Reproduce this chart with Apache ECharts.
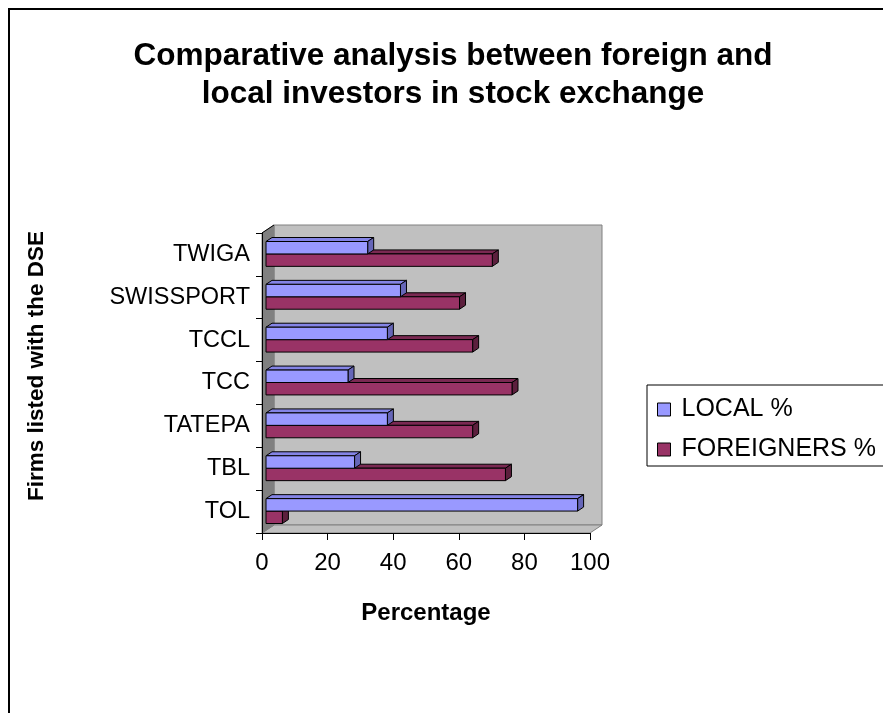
<!DOCTYPE html>
<html>
<head>
<meta charset="utf-8">
<script src="https://cdn.jsdelivr.net/npm/echarts@6/dist/echarts.min.js"></script>
<style>html,body{margin:0;padding:0;background:#fff;}#c{width:883px;height:713px;}</style>
</head>
<body>
<div id="c"></div>
<script>
var categories = ['TOL', 'TBL', 'TATEPA', 'TCC', 'TCCL', 'SWISSPORT', 'TWIGA'];
var localPct = [95, 27, 37, 25, 37, 41, 31];
var foreignPct = [5, 73, 63, 75, 63, 59, 69];
var xTicks = { min: 0, max: 100, interval: 20 };
var seriesNames = ['LOCAL %', 'FOREIGNERS %'];

var G = { left: 262, top: 233, width: 328, height: 300 };
var DEPTH = [12, -8];      // wall depth offset
var BAR_SHIFT = [4, -0.5]; // bar plane offset
var BAR_D = [6, -4];       // bar depth

var FONT = 'Liberation Sans, Arial, sans-serif';

function makeRender(c, isLocal) {
  return function (params, api) {
    var cat = api.value(0), val = api.value(1);
    var p0 = api.coord([0, cat]);
    var p1 = api.coord([val, cat]);
    var band = api.size([0, 1])[1];
    var h = band * 0.29;
    var cy = p0[1] + BAR_SHIFT[1];
    var yTop = isLocal ? cy - h : cy;
    var yBot = yTop + h;
    var x0 = p0[0] + BAR_SHIFT[0], x1 = p1[0] + BAR_SHIFT[0];
    var dx = BAR_D[0], dy = BAR_D[1];
    var st = { stroke: '#000', lineWidth: 1 };
    return {
      type: 'group',
      children: [
        { type: 'polygon', shape: { points: [[x0, yTop], [x1, yTop], [x1 + dx, yTop + dy], [x0 + dx, yTop + dy]] },
          style: Object.assign({ fill: c.top }, st) },
        { type: 'polygon', shape: { points: [[x1, yTop], [x1 + dx, yTop + dy], [x1 + dx, yBot + dy], [x1, yBot]] },
          style: Object.assign({ fill: c.side }, st) },
        { type: 'rect', shape: { x: x0, y: yTop, width: x1 - x0, height: h },
          style: Object.assign({ fill: c.front }, st) }
      ]
    };
  };
}

var localColors = { front: '#9999FF', top: '#8484E6', side: '#6666B8' };
var foreignColors = { front: '#993366', top: '#7A2952', side: '#5C1F3D' };

var chart = echarts.init(document.getElementById('c'), null, { renderer: 'canvas' });

var L = G.left, T = G.top, R = G.left + G.width, B = G.top + G.height;
var dX = DEPTH[0], dY = DEPTH[1];

chart.setOption({
  animation: false,
  backgroundColor: '#fff',
  grid: { left: G.left, top: G.top, width: G.width, height: G.height, containLabel: false },
  legend: {
    data: seriesNames,
    orient: 'vertical',
    left: 647, top: 385,
    padding: [12, 30, 4, 10],
    itemGap: 15,
    itemWidth: 13, itemHeight: 13,
    icon: 'rect',
    borderColor: '#000', borderWidth: 1,
    backgroundColor: '#fff',
    itemStyle: { borderColor: '#000', borderWidth: 1 },
    textStyle: { fontFamily: FONT, fontSize: 25, color: '#000', lineHeight: 24, padding: [0, 0, 0, 6] }
  },
  xAxis: {
    type: 'value',
    min: xTicks.min, max: xTicks.max, interval: xTicks.interval,
    name: 'Percentage',
    nameLocation: 'middle',
    nameGap: 68,
    nameTextStyle: { fontFamily: FONT, fontSize: 24, fontWeight: 'bold', color: '#000' },
    axisLine: { show: true, lineStyle: { color: '#000', width: 1 } },
    axisTick: { show: true, length: 7, lineStyle: { color: '#000' } },
    axisLabel: { fontFamily: FONT, fontSize: 24, color: '#000', margin: 18 },
    splitLine: { show: false }
  },
  yAxis: {
    type: 'category',
    data: categories,
    name: 'Firms listed with the DSE',
    nameLocation: 'middle',
    nameRotate: 90,
    nameGap: 214,
    nameTextStyle: { fontFamily: FONT, fontSize: 22.5, fontWeight: 'bold', color: '#000', padding: [0, 0, 0, 34] },
    axisLine: { show: true, lineStyle: { color: '#000', width: 1 } },
    axisTick: { show: true, length: 6, lineStyle: { color: '#000' } },
    axisLabel: { fontFamily: FONT, fontSize: 23.5, color: '#000', margin: 12 },
    splitLine: { show: false }
  },
  graphic: {
    elements: [
      { type: 'rect', z: 100, silent: true, shape: { x: 9, y: 9, width: 900, height: 720 },
        style: { fill: null, stroke: '#000', lineWidth: 2 } },
      { type: 'text', z: 100, x: 453, y: 37,
        style: { text: 'Comparative analysis between foreign and\nlocal investors in stock exchange',
          fontFamily: FONT, fontSize: 31.5, fontWeight: 'bold', fill: '#000',
          align: 'center', verticalAlign: 'top', lineHeight: 38 } },
      // back wall
      { type: 'rect', z: -5, shape: { x: L + dX, y: T + dY, width: G.width, height: G.height },
        style: { fill: '#C0C0C0', stroke: '#808080', lineWidth: 1 } },
      // floor
      { type: 'polygon', z: -5, shape: { points: [[L, B], [R, B], [R + dX, B + dY], [L + dX, B + dY]] },
        style: { fill: '#C0C0C0', stroke: '#808080', lineWidth: 1 } },
      // left wall
      { type: 'polygon', z: -4, shape: { points: [[L, T], [L + dX, T + dY], [L + dX, B + dY], [L, B]] },
        style: { fill: '#808080', stroke: '#808080', lineWidth: 1 } },
      { type: 'line', z: -3, shape: { x1: L, y1: T, x2: L + dX, y2: T + dY },
        style: { stroke: '#000', lineWidth: 1 } }
    ]
  },
  series: [
    {
      name: seriesNames[1], type: 'custom', z: 2,
      itemStyle: { color: foreignColors.front },
      renderItem: makeRender(foreignColors, false),
      encode: { x: 1, y: 0 },
      data: foreignPct.map(function (v, i) { return [i, v]; })
    },
    {
      name: seriesNames[0], type: 'custom', z: 3,
      itemStyle: { color: localColors.front },
      renderItem: makeRender(localColors, true),
      encode: { x: 1, y: 0 },
      data: localPct.map(function (v, i) { return [i, v]; })
    }
  ]
});
</script>
</body>
</html>
